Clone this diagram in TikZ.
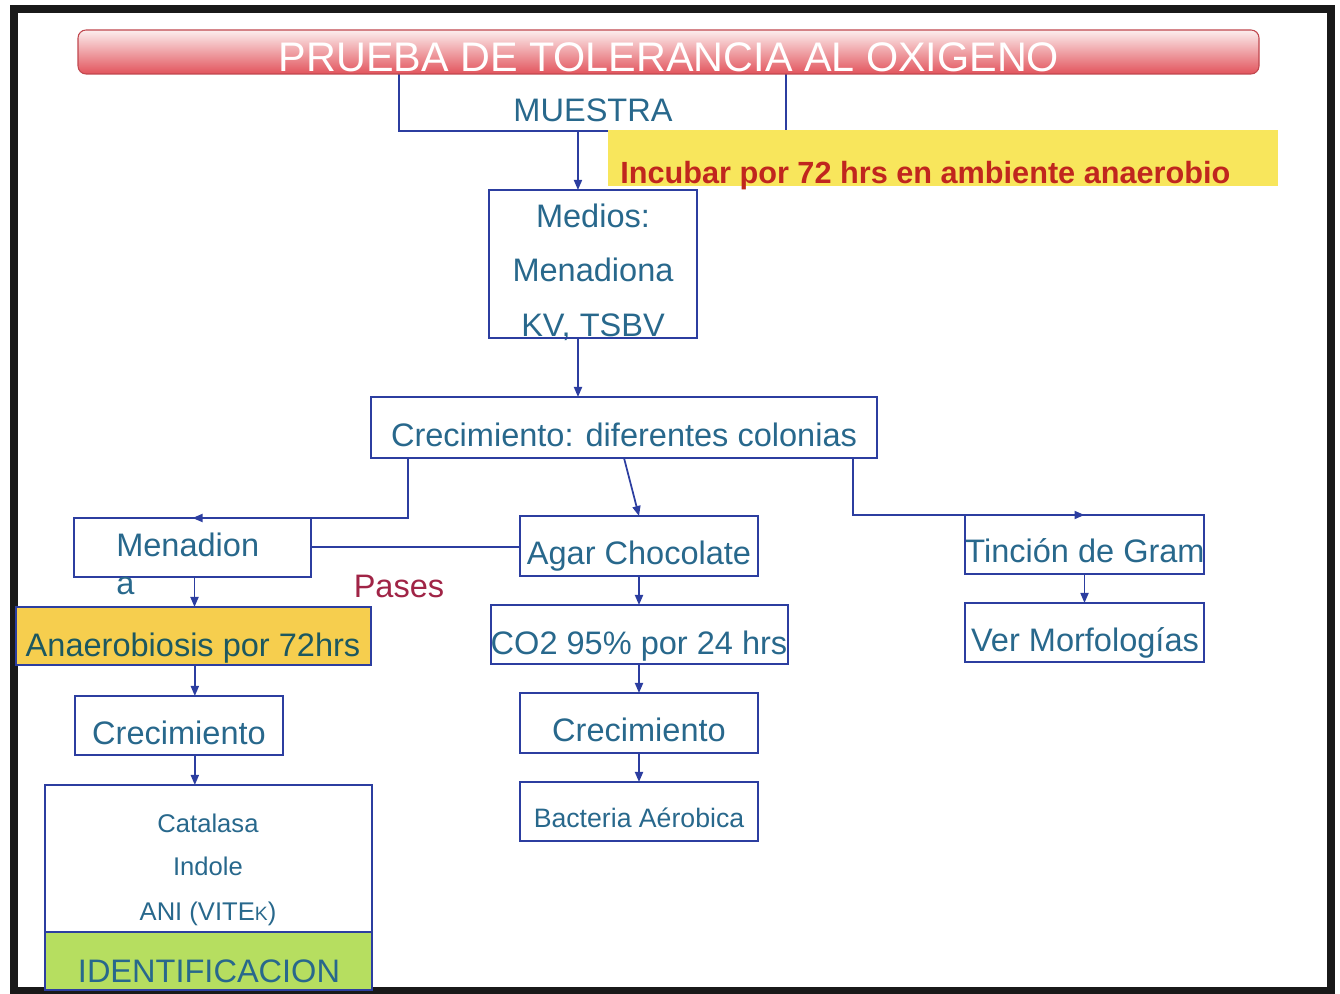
\documentclass[tikz,border=0pt]{standalone}
\usepackage{fontspec}
\setmainfont{Liberation Sans}
\usetikzlibrary{arrows.meta}
\definecolor{boxblue}{RGB}{44,62,160}
\definecolor{txtblue}{RGB}{40,104,140}
\definecolor{darkred}{RGB}{192,38,30}
\definecolor{pasescol}{RGB}{160,36,70}
\definecolor{hlyellow}{RGB}{248,230,92}
\definecolor{goldyellow}{RGB}{246,206,78}
\definecolor{idgreen}{RGB}{182,222,96}
\definecolor{titlered}{RGB}{226,84,92}
\definecolor{titlepink}{RGB}{252,238,238}
\definecolor{anatxt}{RGB}{28,88,96}
\newcommand\pbox[6][]{%
  \node[box,#1,minimum width={(#5-#3)*0.75pt},minimum height={(#6-#4)*0.75pt}] (#2) at ({(#3+#5)/2},{(#4+#6)/2}) {};}
\tikzset{
  box/.style={draw=boxblue, line width=1.6pt, inner sep=0pt, outer sep=0pt, rectangle},
  txt/.style={anchor=base, inner sep=0pt, text=txtblue, font=\fontsize{24.4}{28}\selectfont},
  smalltxt/.style={txt, font=\fontsize{19.2}{22}\selectfont},
  arr/.style={draw=boxblue, line width=1.3pt, -{Triangle[length=7.5pt,width=6pt]}},
  plainline/.style={draw=boxblue, line width=1.5pt},
}
\begin{document}
\begin{tikzpicture}[x=0.75pt,y=-0.75pt]
\useasboundingbox (0,0) rectangle (1340,994);
% frame
\draw[line width=5.5pt, black!90] (14,9) rectangle (1331,991);

% MUESTRA box (top hidden behind title bar)
\node[txt] (tmuestra) at (593,122) {MUESTRA};
\pbox{muestra}{399}{60}{786}{131}

% title bar
\shade[top color=titlepink, bottom color=titlered, rounded corners=6pt] (78,30) rectangle (1259,74);
\draw[titlered!85!black, line width=0.8pt, rounded corners=6pt] (78,30) rectangle (1259,74);
\node[anchor=base, inner sep=0pt, text=white, font=\fontsize{31}{36}\selectfont] (title) at (669,72) {PRUEBA DE TOLERANCIA AL OXIGENO};

% Incubar highlight
\node[fill=hlyellow, inner sep=0pt, minimum width={670*0.75pt}, minimum height={56*0.75pt}] (incubar) at (943,158) {};
\node[anchor=base west, inner sep=0pt, text=darkred, font=\bfseries\fontsize{23}{28}\selectfont] (tincubar) at (620,184) {Incubar por 72 hrs en ambiente anaerobio};

% Medios
\node[txt] (tmedios1) at (593,228) {Medios:};
\node[txt] (tmedios2) at (593,282) {Menadiona};
\node[txt] (tmedios3) at (593,337) {KV, TSBV};
\pbox{medios}{489}{190}{697}{338}

% Crecimiento: diferentes colonias
\node[txt] (tcrec) at (624,447) {Crecimiento: diferentes colonias};
\pbox{crec}{371}{397}{877}{458}

% Left column
\pbox{menadion}{74}{518}{311}{577}
\node[txt, anchor=base west] (tmenad1) at (116,557) {Menadion};
\node[txt, anchor=base west] (tmenad2) at (116,595) {a};
\node[txt, text=pasescol] (pases) at (399,598) {Pases};

\pbox[fill=goldyellow]{anaer}{16}{607}{371}{665}
\node[txt, text=anatxt] (tanaer) at (193,657) {Anaerobiosis por 72hrs};

\pbox{crecL}{75}{696}{283}{755}
\node[txt] (tcrecL) at (179,745) {Crecimiento};

\pbox{tests}{45}{785}{372}{932}
\node[smalltxt] (tcat) at (208,832) {Catalasa};
\node[smalltxt] (tind) at (208,875) {Indole};
\node[smalltxt] (tani) at (208,920) {ANI (VITE{\fontsize{14.5}{18}\selectfont K})};

\pbox[fill=idgreen]{ident}{45}{932}{372}{990}
\node[txt] (tident) at (209,982) {IDENTIFICACION};

% Middle column
\pbox{agar}{520}{516}{758}{576}
\node[txt] (tagar) at (639,565) {Agar Chocolate};
\pbox{co2}{491}{605}{788}{664}
\node[txt] (tco2) at (639,655) {CO2 95\% por 24 hrs};
\pbox{crecM}{520}{693}{758}{753}
\node[txt] (tcrecM) at (639,742) {Crecimiento};
\pbox{bact}{520}{782}{758}{841}
\node[smalltxt, font=\fontsize{20}{22}\selectfont] (tbact) at (639,827) {Bacteria Aérobica};

% Right column
\pbox{tincion}{965}{515}{1204}{574}
\node[txt] (ttincion) at (1085,563) {Tinción de Gram};
\pbox{ver}{965}{603}{1204}{662}
\node[txt] (tver) at (1085,652) {Ver Morfologías};

% connectors
\draw[arr] ([xshift=-10.9pt]muestra.south) -- ([xshift=-10.9pt]muestra.south |- medios.north);
\draw[arr] ([xshift=-11.25pt]medios.south) -- ([xshift=-11.25pt]medios.south |- crec.north);
\draw[arr] ([xshift=27.75pt]crec.south west) |- (menadion.north);
\draw[arr] (crec.south) -- (agar.north);
\draw[arr] ([xshift=-18pt]crec.south east) |- (tincion.north);
\draw[plainline] (menadion.east) -- (menadion.east -| agar.west);
\draw[arr] ([xshift=1.5pt]menadion.south) -- ([xshift=1.5pt]menadion.south |- anaer.north);
\draw[arr] ([xshift=1pt]anaer.south) -- ([xshift=1pt]anaer.south |- crecL.north);
\draw[arr] ([xshift=1pt]crecL.south -| anaer.south) -- ([xshift=1pt]anaer.south |- tests.north);
\draw[arr] (agar.south) -- (agar.south |- co2.north);
\draw[arr] (agar.south |- co2.south) -- (agar.south |- crecM.north);
\draw[arr] (crecM.south) -- (crecM.south |- bact.north);
\draw[arr] (tincion.south) -- (ver.north);
\end{tikzpicture}
\end{document}
